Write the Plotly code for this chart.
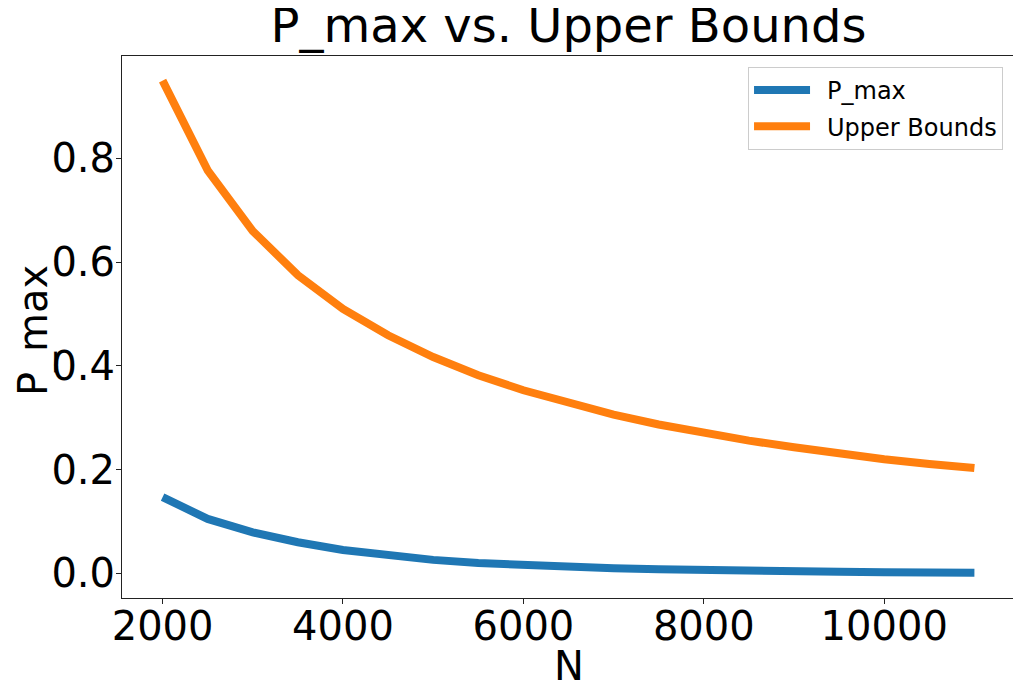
import plotly.graph_objects as go

N = [2000, 2500, 3000, 3500, 4000, 4500, 5000, 5500, 6000, 6500,
     7000, 7500, 8000, 8500, 9000, 9500, 10000, 10500, 11000]
p_max = [0.147, 0.105, 0.079, 0.060, 0.045, 0.035, 0.026, 0.020, 0.016, 0.012,
         0.010, 0.008, 0.006, 0.005, 0.004, 0.003, 0.002, 0.002, 0.001]
upper_bounds = [0.950, 0.777, 0.660, 0.575, 0.510, 0.459, 0.417, 0.382, 0.353, 0.328,
                0.306, 0.287, 0.271, 0.256, 0.243, 0.231, 0.220, 0.211, 0.203]
x_ticks = [2000, 4000, 6000, 8000, 10000]
y_ticks = [0.0, 0.2, 0.4, 0.6, 0.8]

FONT = "DejaVu Sans"
PAD = "\u2002"

fig = go.Figure()
fig.add_trace(go.Scatter(x=N, y=p_max, mode="lines", name=PAD + "P_max",
                         line=dict(color="#1f77b4", width=8), legendgroup="a"))
fig.add_trace(go.Scatter(x=N, y=upper_bounds, mode="lines", name=PAD + "Upper Bounds",
                         line=dict(color="#ff7f0e", width=8), legendgroup="b"))

axis_common = dict(showline=True, linecolor="#222222", linewidth=1, mirror=True,
                   ticks="outside", ticklen=5, tickcolor="#222222",
                   showgrid=False, zeroline=False,
                   tickfont=dict(family=FONT, size=40, color="black"))

W, H = 1013, 689

fig.update_layout(
    width=W, height=H,
    margin=dict(l=114, r=6, t=48, b=99),
    paper_bgcolor="white", plot_bgcolor="white",
    font=dict(family=FONT, color="black"),
    title=dict(text="P_max vs. Upper Bounds", x=0.5, xref="paper", xanchor="center",
               y=1 - 17.5 / H, yref="container", yanchor="middle",
               font=dict(family=FONT, size=48, color="black")),
    xaxis=dict(range=[1550, 11450], tickvals=x_ticks,
               ticktext=[str(v) for v in x_ticks], ticklabelstandoff=-12,
               **axis_common),
    yaxis=dict(range=[-0.0475, 0.9975], tickvals=y_ticks,
               ticktext=[f"{v:.1f}" for v in y_ticks], ticklabelstandoff=-7,
               **axis_common),
    legend=dict(x=0.9866, y=0.9797, xanchor="right", yanchor="top",
                bgcolor="white", bordercolor="#cccccc", borderwidth=1,
                font=dict(family=FONT, size=24, color="black"),
                itemwidth=56, tracegroupgap=2, traceorder="grouped"),
    showlegend=True,
)

fig.add_annotation(text="P_max", xref="paper", yref="paper",
                   x=(33 - 122) / 893, y=(598 - 331) / 542,
                   xanchor="center", yanchor="middle", textangle=-90,
                   showarrow=False, font=dict(family=FONT, size=40, color="black"))
fig.add_annotation(text="N", xref="paper", yref="paper",
                   x=0.5, y=(598 - 666) / 542,
                   xanchor="center", yanchor="middle",
                   showarrow=False, font=dict(family=FONT, size=40, color="black"))

fig.write_html("out.html")
